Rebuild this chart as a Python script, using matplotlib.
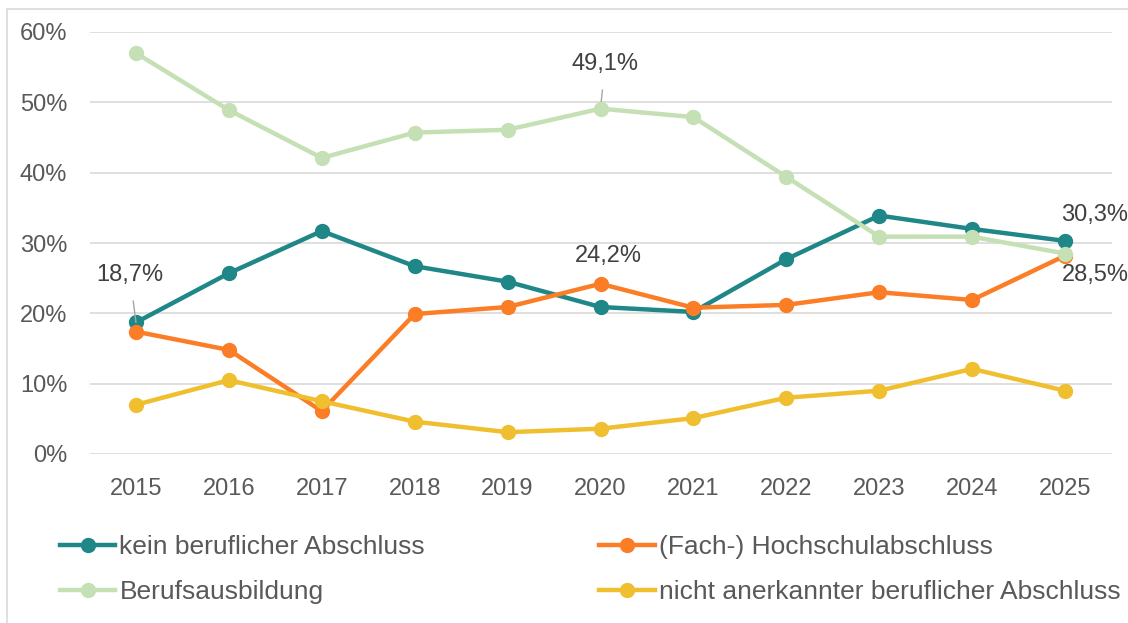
import matplotlib
matplotlib.use('Agg')
import matplotlib.pyplot as plt
from matplotlib.patches import Rectangle
from matplotlib.ticker import FuncFormatter

plt.rcParams['font.family'] = ['Liberation Sans', 'DejaVu Sans']

years = [2015, 2016, 2017, 2018, 2019, 2020, 2021, 2022, 2023, 2024, 2025]
kein_abschluss = [18.7, 25.7, 31.7, 26.7, 24.5, 20.9, 20.2, 27.7, 33.9, 32.0, 30.3]
hochschule = [17.4, 14.8, 6.1, 19.9, 20.9, 24.2, 20.8, 21.2, 23.0, 21.9, 28.2]
berufsausbildung = [57.0, 48.9, 42.1, 45.7, 46.1, 49.1, 47.9, 39.4, 30.9, 30.9, 28.5]
nicht_anerkannt = [7.0, 10.5, 7.5, 4.6, 3.1, 3.6, 5.1, 8.0, 9.0, 12.1, 9.0]

labels = ["kein beruflicher Abschluss", "(Fach-) Hochschulabschluss",
          "Berufsausbildung", "nicht anerkannter beruflicher Abschluss"]
colors = ["#1f8787", "#fb7d26", "#c5e0b4", "#f0bf30"]
series = [kein_abschluss, hochschule, berufsausbildung, nicht_anerkannt]

def fmt(v):
  return ("%.1f%%" % v).replace(".", ",")

fig = plt.figure(figsize=(11.28, 6.23), dpi=100)
fig.patches.append(Rectangle((7 / 1128, -0.1), 1.2, 1 - 9 / 623 + 0.1,
                             transform=fig.transFigure, fill=False,
                             edgecolor="#d9d9d9", linewidth=1.2))
ax = fig.add_axes([89.5 / 1128, 1 - 454 / 623, 1022 / 1128, 422 / 623])

xs = list(range(len(years)))
lines = []
for i, vals in enumerate(series):
  ln, = ax.plot(xs, vals, color=colors[i], linewidth=3.2, marker="o",
                markersize=10, label=labels[i], zorder=3 + i)
  lines.append(ln)

ax.set_xlim(-0.5, len(years) - 0.5)
ax.set_ylim(0, 60)
ax.set_yticks(range(0, 61, 10))
ax.yaxis.set_major_formatter(FuncFormatter(lambda v, p: "%d%%" % v))
ax.set_xticks(xs)
ax.set_xticklabels([str(y) for y in years])
ax.grid(axis="y", color="#d9d9d9", linewidth=1.2, zorder=0)
for s in ax.spines.values():
  s.set_visible(False)
ax.tick_params(length=0, labelsize=17, colors="#595959")
ax.tick_params(axis="y", pad=16)
ax.tick_params(axis="x", pad=17.5)

txt = dict(fontsize=17, color="#404040")
ax.annotate(fmt(kein_abschluss[0]), xy=(0, kein_abschluss[0]), xytext=(-0.065, 25.5),
            ha="center", va="center",
            arrowprops=dict(arrowstyle="-", color="#a6a6a6", lw=1, shrinkA=9, shrinkB=0), **txt)
ax.annotate(fmt(berufsausbildung[5]), xy=(5, berufsausbildung[5]), xytext=(5.05, 55.5),
            ha="center", va="center",
            arrowprops=dict(arrowstyle="-", color="#a6a6a6", lw=1, shrinkA=9, shrinkB=0), **txt)
ax.text(5.08, 28.2, fmt(hochschule[5]), ha="center", va="center", **txt)
ax.text(10.32, 34.0, fmt(kein_abschluss[10]), ha="center", va="center", **txt)
ax.text(10.33, 25.5, fmt(berufsausbildung[10]), ha="center", va="center", **txt)

order = [0, 2, 1, 3]
fig.legend([lines[i] for i in order], [labels[i] for i in order],
           loc="upper left", bbox_to_anchor=(60 / 1128, 1 - 535 / 623), ncol=2,
           frameon=False, fontsize=19, handlelength=2.1, handletextpad=0.15,
           columnspacing=6.6, labelspacing=0.8, labelcolor="#595959",
           borderaxespad=0, borderpad=0)

fig.savefig("out.png", dpi=100)
